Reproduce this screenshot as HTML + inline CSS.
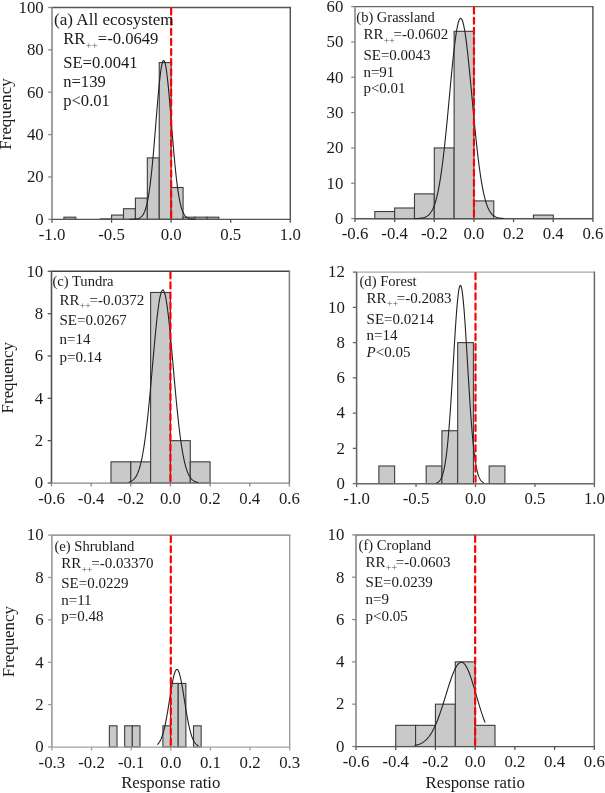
<!DOCTYPE html>
<html><head><meta charset="utf-8"><style>
html,body{margin:0;padding:0;background:#fff;width:605px;height:793px;overflow:hidden}
svg{display:block;will-change:transform}
text{font-family:"Liberation Serif",serif;fill:#1a1a1a}
</style></head><body>
<svg width="605" height="793" viewBox="0 0 605 793">
<rect width="605" height="793" fill="#fff"/>
<rect x="63.91" y="217.18" width="11.91" height="2.12" fill="#c9c9c9" stroke="#3c3c3c" stroke-width="1.1"/>
<line x1="99.66" y1="218.8" x2="111.58" y2="218.8" stroke="#444" stroke-width="1"/>
<rect x="111.58" y="215.06" width="11.91" height="4.24" fill="#c9c9c9" stroke="#3c3c3c" stroke-width="1.1"/>
<rect x="123.49" y="208.71" width="11.92" height="10.59" fill="#c9c9c9" stroke="#3c3c3c" stroke-width="1.1"/>
<rect x="135.41" y="198.12" width="11.91" height="21.18" fill="#c9c9c9" stroke="#3c3c3c" stroke-width="1.1"/>
<rect x="147.32" y="157.88" width="11.92" height="61.42" fill="#c9c9c9" stroke="#3c3c3c" stroke-width="1.1"/>
<rect x="159.24" y="62.57" width="11.91" height="156.73" fill="#c9c9c9" stroke="#3c3c3c" stroke-width="1.1"/>
<rect x="171.15" y="187.53" width="11.92" height="31.77" fill="#c9c9c9" stroke="#3c3c3c" stroke-width="1.1"/>
<rect x="183.07" y="217.18" width="11.91" height="2.12" fill="#c9c9c9" stroke="#3c3c3c" stroke-width="1.1"/>
<rect x="194.98" y="217.18" width="11.92" height="2.12" fill="#c9c9c9" stroke="#3c3c3c" stroke-width="1.1"/>
<rect x="206.9" y="217.18" width="11.91" height="2.12" fill="#c9c9c9" stroke="#3c3c3c" stroke-width="1.1"/>
<line x1="52" y1="7.5" x2="290.3" y2="7.5" stroke="#555" stroke-width="1.45" stroke-linecap="round"/>
<line x1="290.3" y1="7.5" x2="290.3" y2="219.3" stroke="#555" stroke-width="1.45" stroke-linecap="round"/>
<line x1="52" y1="7.5" x2="52" y2="219.3" stroke="#8a8a8a" stroke-width="1.6"/>
<line x1="52" y1="219.45" x2="290.3" y2="219.45" stroke="#555" stroke-width="1.3"/>
<line x1="48.2" y1="219.3" x2="52" y2="219.3" stroke="#8a8a8a" stroke-width="1.3"/>
<text x="43.7" y="224.6" text-anchor="end" font-size="16.8">0</text>
<line x1="48.2" y1="176.94" x2="52" y2="176.94" stroke="#8a8a8a" stroke-width="1.3"/>
<text x="43.7" y="182.24" text-anchor="end" font-size="16.8">20</text>
<line x1="48.2" y1="134.58" x2="52" y2="134.58" stroke="#8a8a8a" stroke-width="1.3"/>
<text x="43.7" y="139.88" text-anchor="end" font-size="16.8">40</text>
<line x1="48.2" y1="92.22" x2="52" y2="92.22" stroke="#8a8a8a" stroke-width="1.3"/>
<text x="43.7" y="97.52" text-anchor="end" font-size="16.8">60</text>
<line x1="48.2" y1="49.86" x2="52" y2="49.86" stroke="#8a8a8a" stroke-width="1.3"/>
<text x="43.7" y="55.16" text-anchor="end" font-size="16.8">80</text>
<line x1="48.2" y1="7.5" x2="52" y2="7.5" stroke="#8a8a8a" stroke-width="1.3"/>
<text x="43.7" y="12.8" text-anchor="end" font-size="16.8">100</text>
<line x1="52" y1="219.3" x2="52" y2="222.8" stroke="#555" stroke-width="1.3"/>
<text x="52" y="239.8" text-anchor="middle" font-size="16.8">-1.0</text>
<line x1="111.58" y1="219.3" x2="111.58" y2="222.8" stroke="#555" stroke-width="1.3"/>
<text x="111.58" y="239.8" text-anchor="middle" font-size="16.8">-0.5</text>
<line x1="171.15" y1="219.3" x2="171.15" y2="222.8" stroke="#555" stroke-width="1.3"/>
<text x="171.15" y="239.8" text-anchor="middle" font-size="16.8">0.0</text>
<line x1="230.73" y1="219.3" x2="230.73" y2="222.8" stroke="#555" stroke-width="1.3"/>
<text x="230.73" y="239.8" text-anchor="middle" font-size="16.8">0.5</text>
<line x1="290.3" y1="219.3" x2="290.3" y2="222.8" stroke="#555" stroke-width="1.3"/>
<text x="290.3" y="239.8" text-anchor="middle" font-size="16.8">1.0</text>
<polyline points="129.45,219.29 129.99,219.29 130.54,219.28 131.09,219.28 131.63,219.27 132.18,219.26 132.72,219.25 133.27,219.23 133.82,219.2 134.36,219.17 134.91,219.14 135.45,219.09 136,219.03 136.55,218.95 137.09,218.85 137.64,218.73 138.19,218.58 138.73,218.4 139.28,218.17 139.82,217.9 140.37,217.56 140.92,217.16 141.46,216.67 142.01,216.09 142.55,215.4 143.1,214.59 143.65,213.63 144.19,212.52 144.74,211.23 145.28,209.73 145.83,208.02 146.38,206.07 146.92,203.85 147.47,201.36 148.02,198.56 148.56,195.45 149.11,192.01 149.65,188.23 150.2,184.09 150.75,179.61 151.29,174.77 151.84,169.59 152.38,164.09 152.93,158.28 153.48,152.2 154.02,145.87 154.57,139.35 155.11,132.68 155.66,125.92 156.21,119.13 156.75,112.37 157.3,105.73 157.84,99.28 158.39,93.09 158.94,87.23 159.48,81.79 160.03,76.84 160.58,72.44 161.12,68.65 161.67,65.54 162.21,63.13 162.76,61.48 163.31,60.6 163.85,60.51 164.4,61.2 164.94,62.67 165.49,64.9 166.04,67.85 166.58,71.49 167.13,75.75 167.67,80.57 168.22,85.91 168.77,91.67 169.31,97.79 169.86,104.19 170.41,110.79 170.95,117.52 171.5,124.31 172.04,131.09 172.59,137.78 173.14,144.35 173.68,150.72 174.23,156.87 174.77,162.74 175.32,168.32 175.87,173.58 176.41,178.49 176.96,183.06 177.5,187.28 178.05,191.15 178.6,194.67 179.14,197.86 179.69,200.73 180.24,203.29 180.78,205.57 181.33,207.58 181.87,209.35 182.42,210.89 182.97,212.23 183.51,213.39 184.06,214.38 184.6,215.22 185.15,215.94 185.7,216.54 186.24,217.05 186.79,217.47 187.33,217.82 187.88,218.11 188.43,218.35 188.97,218.54 189.52,218.7 190.07,218.83 190.61,218.93 191.16,219.01 191.7,219.08 192.25,219.13 192.8,219.17 193.34,219.2 193.89,219.22 194.43,219.24 194.98,219.26" fill="none" stroke="#222" stroke-width="1.1"/>
<line x1="171.15" y1="7.5" x2="171.15" y2="219.3" stroke="#ff0000" stroke-width="2.2" stroke-linecap="round" stroke-dasharray="6 4.13" stroke-dashoffset="-1.035"/>
<text x="54" y="25.4" font-size="17.1">(a) All ecosystem</text>
<text x="63.2" y="44.1" font-size="16.6">RR<tspan font-size="10.79" dx="0.3" dy="4.98" fill="#555">++</tspan><tspan dx="0" dy="-4.98">=-0.0649</tspan></text>
<text x="63.2" y="68.2" font-size="16.6">SE=0.0041</text>
<text x="63.2" y="87.3" font-size="16.6">n=139</text>
<text x="63.2" y="105.8" font-size="16.6">p&lt;0.01</text>
<text transform="translate(11.3,114) rotate(-90)" text-anchor="middle" font-size="16.9">Frequency</text>
<rect x="374.82" y="211.53" width="19.82" height="7.07" fill="#c9c9c9" stroke="#3c3c3c" stroke-width="1.1"/>
<rect x="394.65" y="208" width="19.83" height="10.6" fill="#c9c9c9" stroke="#3c3c3c" stroke-width="1.1"/>
<rect x="414.48" y="193.87" width="19.82" height="24.73" fill="#c9c9c9" stroke="#3c3c3c" stroke-width="1.1"/>
<rect x="434.3" y="147.93" width="19.83" height="70.67" fill="#c9c9c9" stroke="#3c3c3c" stroke-width="1.1"/>
<rect x="454.12" y="31.33" width="19.82" height="187.27" fill="#c9c9c9" stroke="#3c3c3c" stroke-width="1.1"/>
<rect x="473.95" y="200.93" width="19.82" height="17.67" fill="#c9c9c9" stroke="#3c3c3c" stroke-width="1.1"/>
<rect x="533.42" y="215.07" width="19.83" height="3.53" fill="#c9c9c9" stroke="#3c3c3c" stroke-width="1.1"/>
<line x1="355" y1="6.6" x2="592.9" y2="6.6" stroke="#666" stroke-width="1.45" stroke-linecap="round"/>
<line x1="592.9" y1="6.6" x2="592.9" y2="218.6" stroke="#555" stroke-width="1.45" stroke-linecap="round"/>
<line x1="355" y1="6.6" x2="355" y2="218.6" stroke="#888" stroke-width="1.6"/>
<line x1="355" y1="218.75" x2="592.9" y2="218.75" stroke="#555" stroke-width="1.3"/>
<line x1="351.2" y1="218.6" x2="355" y2="218.6" stroke="#888" stroke-width="1.3"/>
<text x="343.3" y="223.9" text-anchor="end" font-size="16.8">0</text>
<line x1="351.2" y1="183.27" x2="355" y2="183.27" stroke="#888" stroke-width="1.3"/>
<text x="343.3" y="188.57" text-anchor="end" font-size="16.8">10</text>
<line x1="351.2" y1="147.93" x2="355" y2="147.93" stroke="#888" stroke-width="1.3"/>
<text x="343.3" y="153.23" text-anchor="end" font-size="16.8">20</text>
<line x1="351.2" y1="112.6" x2="355" y2="112.6" stroke="#888" stroke-width="1.3"/>
<text x="343.3" y="117.9" text-anchor="end" font-size="16.8">30</text>
<line x1="351.2" y1="77.27" x2="355" y2="77.27" stroke="#888" stroke-width="1.3"/>
<text x="343.3" y="82.57" text-anchor="end" font-size="16.8">40</text>
<line x1="351.2" y1="41.93" x2="355" y2="41.93" stroke="#888" stroke-width="1.3"/>
<text x="343.3" y="47.23" text-anchor="end" font-size="16.8">50</text>
<line x1="351.2" y1="6.6" x2="355" y2="6.6" stroke="#888" stroke-width="1.3"/>
<text x="343.3" y="11.9" text-anchor="end" font-size="16.8">60</text>
<line x1="355" y1="218.6" x2="355" y2="222.1" stroke="#555" stroke-width="1.3"/>
<text x="355" y="239.1" text-anchor="middle" font-size="16.8">-0.6</text>
<line x1="394.65" y1="218.6" x2="394.65" y2="222.1" stroke="#555" stroke-width="1.3"/>
<text x="394.65" y="239.1" text-anchor="middle" font-size="16.8">-0.4</text>
<line x1="434.3" y1="218.6" x2="434.3" y2="222.1" stroke="#555" stroke-width="1.3"/>
<text x="434.3" y="239.1" text-anchor="middle" font-size="16.8">-0.2</text>
<line x1="473.95" y1="218.6" x2="473.95" y2="222.1" stroke="#555" stroke-width="1.3"/>
<text x="473.95" y="239.1" text-anchor="middle" font-size="16.8">0.0</text>
<line x1="513.6" y1="218.6" x2="513.6" y2="222.1" stroke="#555" stroke-width="1.3"/>
<text x="513.6" y="239.1" text-anchor="middle" font-size="16.8">0.2</text>
<line x1="553.25" y1="218.6" x2="553.25" y2="222.1" stroke="#555" stroke-width="1.3"/>
<text x="553.25" y="239.1" text-anchor="middle" font-size="16.8">0.4</text>
<line x1="592.9" y1="218.6" x2="592.9" y2="222.1" stroke="#555" stroke-width="1.3"/>
<text x="592.9" y="239.1" text-anchor="middle" font-size="16.8">0.6</text>
<polyline points="414.48,218.55 415.22,218.54 415.96,218.52 416.71,218.5 417.45,218.47 418.19,218.43 418.94,218.38 419.68,218.32 420.42,218.25 421.17,218.15 421.91,218.04 422.65,217.9 423.4,217.73 424.14,217.52 424.88,217.27 425.63,216.96 426.37,216.6 427.11,216.16 427.86,215.64 428.6,215.03 429.34,214.3 430.09,213.45 430.83,212.46 431.57,211.31 432.32,209.99 433.06,208.47 433.8,206.72 434.55,204.74 435.29,202.5 436.03,199.98 436.78,197.16 437.52,194.01 438.26,190.52 439.01,186.68 439.75,182.47 440.5,177.88 441.24,172.9 441.98,167.54 442.73,161.8 443.47,155.68 444.21,149.2 444.96,142.39 445.7,135.27 446.44,127.88 447.19,120.26 447.93,112.46 448.67,104.54 449.42,96.55 450.16,88.57 450.9,80.67 451.65,72.92 452.39,65.4 453.13,58.18 453.88,51.35 454.62,44.98 455.36,39.15 456.11,33.92 456.85,29.37 457.59,25.53 458.34,22.47 459.08,20.22 459.82,18.82 460.57,18.27 461.31,18.59 462.05,19.77 462.8,21.79 463.54,24.64 464.29,28.27 465.03,32.64 465.77,37.69 466.52,43.37 467.26,49.6 468,56.32 468.75,63.44 469.49,70.89 470.23,78.59 470.98,86.46 471.72,94.42 472.46,102.41 473.21,110.36 473.95,118.2 474.69,125.87 475.44,133.33 476.18,140.52 476.92,147.42 477.67,153.99 478.41,160.2 479.15,166.05 479.9,171.51 480.64,176.59 481.38,181.28 482.13,185.59 482.87,189.53 483.61,193.11 484.36,196.35 485.1,199.26 485.84,201.86 486.59,204.17 487.33,206.22 488.08,208.02 488.82,209.6 489.56,210.98 490.31,212.17 491.05,213.2 491.79,214.09 492.54,214.84 493.28,215.49 494.02,216.03 494.77,216.49 495.51,216.87 496.25,217.19 497,217.46 497.74,217.68 498.48,217.86 499.23,218.01 499.97,218.13 500.71,218.22 501.46,218.3 502.2,218.37 502.94,218.42 503.69,218.46" fill="none" stroke="#222" stroke-width="1.1"/>
<line x1="473.95" y1="6.6" x2="473.95" y2="218.6" stroke="#ff0000" stroke-width="2.2" stroke-linecap="round" stroke-dasharray="6 4.13" stroke-dashoffset="-1.035"/>
<text x="356.3" y="21.8" font-size="14.5">(b) Grassland</text>
<text x="363.4" y="39.2" font-size="15.0">RR<tspan font-size="9.75" dx="0.3" dy="4.5" fill="#555">++</tspan><tspan dx="-1.2" dy="-4.5">=-0.0602</tspan></text>
<text x="363.4" y="59.6" font-size="15.0">SE=0.0043</text>
<text x="363.4" y="76.6" font-size="15.0">n=91</text>
<text x="363.4" y="93.1" font-size="15.0">p&lt;0.01</text>
<rect x="110.97" y="461.83" width="19.82" height="21.17" fill="#c9c9c9" stroke="#3c3c3c" stroke-width="1.1"/>
<rect x="130.8" y="461.83" width="19.83" height="21.17" fill="#c9c9c9" stroke="#3c3c3c" stroke-width="1.1"/>
<rect x="150.62" y="292.47" width="19.82" height="190.53" fill="#c9c9c9" stroke="#3c3c3c" stroke-width="1.1"/>
<rect x="170.45" y="440.66" width="19.83" height="42.34" fill="#c9c9c9" stroke="#3c3c3c" stroke-width="1.1"/>
<rect x="190.28" y="461.83" width="19.82" height="21.17" fill="#c9c9c9" stroke="#3c3c3c" stroke-width="1.1"/>
<line x1="51.5" y1="271.3" x2="289.4" y2="271.3" stroke="#444" stroke-width="1.45" stroke-linecap="round"/>
<line x1="289.4" y1="271.3" x2="289.4" y2="483" stroke="#777" stroke-width="1.45" stroke-linecap="round"/>
<line x1="51.5" y1="271.3" x2="51.5" y2="483" stroke="#555" stroke-width="1.6"/>
<line x1="51.5" y1="483.15" x2="289.4" y2="483.15" stroke="#888" stroke-width="1.3"/>
<line x1="47.7" y1="483" x2="51.5" y2="483" stroke="#555" stroke-width="1.3"/>
<text x="43.2" y="488.3" text-anchor="end" font-size="16.8">0</text>
<line x1="47.7" y1="440.66" x2="51.5" y2="440.66" stroke="#555" stroke-width="1.3"/>
<text x="43.2" y="445.96" text-anchor="end" font-size="16.8">2</text>
<line x1="47.7" y1="398.32" x2="51.5" y2="398.32" stroke="#555" stroke-width="1.3"/>
<text x="43.2" y="403.62" text-anchor="end" font-size="16.8">4</text>
<line x1="47.7" y1="355.98" x2="51.5" y2="355.98" stroke="#555" stroke-width="1.3"/>
<text x="43.2" y="361.28" text-anchor="end" font-size="16.8">6</text>
<line x1="47.7" y1="313.64" x2="51.5" y2="313.64" stroke="#555" stroke-width="1.3"/>
<text x="43.2" y="318.94" text-anchor="end" font-size="16.8">8</text>
<line x1="47.7" y1="271.3" x2="51.5" y2="271.3" stroke="#555" stroke-width="1.3"/>
<text x="43.2" y="276.6" text-anchor="end" font-size="16.8">10</text>
<line x1="51.5" y1="483" x2="51.5" y2="486.5" stroke="#888" stroke-width="1.3"/>
<text x="51.5" y="503.5" text-anchor="middle" font-size="16.8">-0.6</text>
<line x1="91.15" y1="483" x2="91.15" y2="486.5" stroke="#888" stroke-width="1.3"/>
<text x="91.15" y="503.5" text-anchor="middle" font-size="16.8">-0.4</text>
<line x1="130.8" y1="483" x2="130.8" y2="486.5" stroke="#888" stroke-width="1.3"/>
<text x="130.8" y="503.5" text-anchor="middle" font-size="16.8">-0.2</text>
<line x1="170.45" y1="483" x2="170.45" y2="486.5" stroke="#888" stroke-width="1.3"/>
<text x="170.45" y="503.5" text-anchor="middle" font-size="16.8">0.0</text>
<line x1="210.1" y1="483" x2="210.1" y2="486.5" stroke="#888" stroke-width="1.3"/>
<text x="210.1" y="503.5" text-anchor="middle" font-size="16.8">0.2</text>
<line x1="249.75" y1="483" x2="249.75" y2="486.5" stroke="#888" stroke-width="1.3"/>
<text x="249.75" y="503.5" text-anchor="middle" font-size="16.8">0.4</text>
<line x1="289.4" y1="483" x2="289.4" y2="486.5" stroke="#888" stroke-width="1.3"/>
<text x="289.4" y="503.5" text-anchor="middle" font-size="16.8">0.6</text>
<polyline points="128.82,482.16 129.4,481.99 129.97,481.79 130.55,481.56 131.13,481.29 131.71,480.97 132.29,480.59 132.87,480.16 133.44,479.67 134.02,479.1 134.6,478.44 135.18,477.69 135.76,476.84 136.33,475.88 136.91,474.79 137.49,473.56 138.07,472.18 138.65,470.64 139.23,468.92 139.8,467.02 140.38,464.92 140.96,462.6 141.54,460.06 142.12,457.29 142.69,454.27 143.27,450.99 143.85,447.46 144.43,443.66 145.01,439.58 145.59,435.24 146.16,430.63 146.74,425.75 147.32,420.62 147.9,415.24 148.48,409.63 149.06,403.8 149.63,397.77 150.21,391.58 150.79,385.24 151.37,378.79 151.95,372.27 152.52,365.71 153.1,359.15 153.68,352.63 154.26,346.2 154.84,339.91 155.42,333.79 155.99,327.91 156.57,322.29 157.15,317 157.73,312.07 158.31,307.55 158.89,303.47 159.46,299.88 160.04,296.8 160.62,294.27 161.2,292.3 161.78,290.91 162.35,290.12 162.93,289.94 163.51,290.37 164.09,291.39 164.67,293.01 165.25,295.21 165.82,297.97 166.4,301.26 166.98,305.05 167.56,309.31 168.14,314 168.72,319.08 169.29,324.5 169.87,330.23 170.45,336.21 171.03,342.41 171.61,348.76 172.18,355.23 172.76,361.77 173.34,368.34 173.92,374.89 174.5,381.38 175.08,387.79 175.65,394.07 176.23,400.2 176.81,406.15 177.39,411.9 177.97,417.42 178.55,422.7 179.12,427.74 179.7,432.51 180.28,437.01 180.86,441.25 181.44,445.21 182.01,448.9 182.59,452.33 183.17,455.5 183.75,458.43 184.33,461.11 184.91,463.55 185.48,465.78 186.06,467.8 186.64,469.63 187.22,471.27 187.8,472.75 188.38,474.07 188.95,475.24 189.53,476.28 190.11,477.2 190.69,478 191.27,478.71 191.84,479.33 192.42,479.87 193,480.34 193.58,480.75 194.16,481.1 194.74,481.4 195.31,481.66 195.89,481.88 196.47,482.06 197.05,482.22 197.63,482.35 198.2,482.47" fill="none" stroke="#222" stroke-width="1.1"/>
<line x1="170.45" y1="271.3" x2="170.45" y2="483" stroke="#ff0000" stroke-width="2.2" stroke-linecap="round" stroke-dasharray="6 4.13" stroke-dashoffset="-1.035"/>
<text x="52.4" y="285.5" font-size="14.6">(c) Tundra</text>
<text x="59.5" y="304.5" font-size="15.0">RR<tspan font-size="9.75" dx="0.3" dy="4.5" fill="#555">++</tspan><tspan dx="-1.2" dy="-4.5">=-0.0372</tspan></text>
<text x="59.5" y="324.5" font-size="15.0">SE=0.0267</text>
<text x="59.5" y="343.6" font-size="15.0">n=14</text>
<text x="59.5" y="361.5" font-size="15.0">p=0.14</text>
<text transform="translate(12.5,377.75) rotate(-90)" text-anchor="middle" font-size="16.9">Frequency</text>
<rect x="378.89" y="465.98" width="15.75" height="17.62" fill="#c9c9c9" stroke="#3c3c3c" stroke-width="1.1"/>
<rect x="426.16" y="465.98" width="15.75" height="17.62" fill="#c9c9c9" stroke="#3c3c3c" stroke-width="1.1"/>
<rect x="441.91" y="430.73" width="15.75" height="52.88" fill="#c9c9c9" stroke="#3c3c3c" stroke-width="1.1"/>
<rect x="457.67" y="342.6" width="15.75" height="141" fill="#c9c9c9" stroke="#3c3c3c" stroke-width="1.1"/>
<rect x="489.17" y="465.98" width="15.75" height="17.62" fill="#c9c9c9" stroke="#3c3c3c" stroke-width="1.1"/>
<line x1="356.6" y1="272.1" x2="594.4" y2="272.1" stroke="#aaa" stroke-width="1.45" stroke-linecap="round"/>
<line x1="594.4" y1="272.1" x2="594.4" y2="483.6" stroke="#666" stroke-width="1.45" stroke-linecap="round"/>
<line x1="356.6" y1="272.1" x2="356.6" y2="483.6" stroke="#666" stroke-width="1.6"/>
<line x1="356.6" y1="483.75" x2="594.4" y2="483.75" stroke="#666" stroke-width="1.3"/>
<line x1="352.8" y1="483.6" x2="356.6" y2="483.6" stroke="#666" stroke-width="1.3"/>
<text x="344.9" y="488.9" text-anchor="end" font-size="16.8">0</text>
<line x1="352.8" y1="448.35" x2="356.6" y2="448.35" stroke="#666" stroke-width="1.3"/>
<text x="344.9" y="453.65" text-anchor="end" font-size="16.8">2</text>
<line x1="352.8" y1="413.1" x2="356.6" y2="413.1" stroke="#666" stroke-width="1.3"/>
<text x="344.9" y="418.4" text-anchor="end" font-size="16.8">4</text>
<line x1="352.8" y1="377.85" x2="356.6" y2="377.85" stroke="#666" stroke-width="1.3"/>
<text x="344.9" y="383.15" text-anchor="end" font-size="16.8">6</text>
<line x1="352.8" y1="342.6" x2="356.6" y2="342.6" stroke="#666" stroke-width="1.3"/>
<text x="344.9" y="347.9" text-anchor="end" font-size="16.8">8</text>
<line x1="352.8" y1="307.35" x2="356.6" y2="307.35" stroke="#666" stroke-width="1.3"/>
<text x="344.9" y="312.65" text-anchor="end" font-size="16.8">10</text>
<line x1="352.8" y1="272.1" x2="356.6" y2="272.1" stroke="#666" stroke-width="1.3"/>
<text x="344.9" y="277.4" text-anchor="end" font-size="16.8">12</text>
<line x1="356.6" y1="483.6" x2="356.6" y2="487.1" stroke="#666" stroke-width="1.3"/>
<text x="356.6" y="504.1" text-anchor="middle" font-size="16.8">-1.0</text>
<line x1="416.05" y1="483.6" x2="416.05" y2="487.1" stroke="#666" stroke-width="1.3"/>
<text x="416.05" y="504.1" text-anchor="middle" font-size="16.8">-0.5</text>
<line x1="475.5" y1="483.6" x2="475.5" y2="487.1" stroke="#666" stroke-width="1.3"/>
<text x="475.5" y="504.1" text-anchor="middle" font-size="16.8">0.0</text>
<line x1="534.95" y1="483.6" x2="534.95" y2="487.1" stroke="#666" stroke-width="1.3"/>
<text x="534.95" y="504.1" text-anchor="middle" font-size="16.8">0.5</text>
<line x1="594.4" y1="483.6" x2="594.4" y2="487.1" stroke="#666" stroke-width="1.3"/>
<text x="594.4" y="504.1" text-anchor="middle" font-size="16.8">1.0</text>
<polyline points="436.26,482.95 436.66,482.82 437.06,482.66 437.45,482.48 437.85,482.26 438.24,482 438.64,481.71 439.04,481.36 439.43,480.96 439.83,480.5 440.23,479.96 440.62,479.35 441.02,478.65 441.42,477.85 441.81,476.95 442.21,475.92 442.6,474.77 443,473.47 443.4,472.02 443.79,470.4 444.19,468.6 444.59,466.61 444.98,464.41 445.38,461.99 445.77,459.35 446.17,456.47 446.57,453.33 446.96,449.94 447.36,446.29 447.76,442.36 448.15,438.17 448.55,433.7 448.95,428.96 449.34,423.95 449.74,418.69 450.13,413.18 450.53,407.44 450.93,401.48 451.32,395.33 451.72,389.01 452.12,382.55 452.51,375.99 452.91,369.34 453.31,362.67 453.7,356 454.1,349.37 454.49,342.84 454.89,336.44 455.29,330.23 455.68,324.24 456.08,318.54 456.48,313.15 456.87,308.13 457.27,303.52 457.67,299.36 458.06,295.69 458.46,292.53 458.85,289.92 459.25,287.88 459.65,286.42 460.04,285.57 460.44,285.32 460.84,285.69 461.23,286.66 461.63,288.24 462.02,290.4 462.42,293.12 462.82,296.38 463.21,300.16 463.61,304.41 464.01,309.11 464.4,314.2 464.8,319.65 465.2,325.42 465.59,331.45 465.99,337.71 466.38,344.13 466.78,350.69 467.18,357.33 467.57,364 467.97,370.68 468.37,377.31 468.76,383.85 469.16,390.29 469.56,396.57 469.95,402.69 470.35,408.6 470.74,414.3 471.14,419.76 471.54,424.98 471.93,429.93 472.33,434.61 472.73,439.03 473.12,443.17 473.52,447.04 473.91,450.64 474.31,453.98 474.71,457.06 475.1,459.9 475.5,462.49 475.9,464.86 476.29,467.02 476.69,468.97 477.09,470.74 477.48,472.32 477.88,473.74 478.27,475.01 478.67,476.14 479.07,477.14 479.46,478.02 479.86,478.8 480.26,479.48 480.65,480.07 481.05,480.59 481.44,481.04 481.84,481.43 482.24,481.77 482.63,482.06 483.03,482.31 483.43,482.52 483.82,482.7" fill="none" stroke="#222" stroke-width="1.1"/>
<line x1="475.5" y1="272.1" x2="475.5" y2="483.6" stroke="#ff0000" stroke-width="2.2" stroke-linecap="round" stroke-dasharray="6 4.13" stroke-dashoffset="-1.035"/>
<text x="359.5" y="285.5" font-size="14.6">(d) Forest</text>
<text x="366.6" y="302.7" font-size="15.0">RR<tspan font-size="9.75" dx="0.3" dy="4.5" fill="#555">++</tspan><tspan dx="-1.2" dy="-4.5">=-0.2083</tspan></text>
<text x="366.6" y="323.5" font-size="15.0">SE=0.0214</text>
<text x="366.6" y="340" font-size="15.0">n=14</text>
<text x="366.6" y="357.1" font-size="15.0"><tspan font-style="italic">P</tspan>&lt;0.05</text>
<rect x="109.37" y="725.81" width="7.65" height="21.19" fill="#c9c9c9" stroke="#3c3c3c" stroke-width="1.1"/>
<rect x="124.67" y="725.81" width="7.65" height="21.19" fill="#c9c9c9" stroke="#3c3c3c" stroke-width="1.1"/>
<rect x="132.32" y="725.81" width="7.65" height="21.19" fill="#c9c9c9" stroke="#3c3c3c" stroke-width="1.1"/>
<rect x="162.91" y="725.81" width="7.65" height="21.19" fill="#c9c9c9" stroke="#3c3c3c" stroke-width="1.1"/>
<rect x="170.56" y="683.43" width="7.65" height="63.57" fill="#c9c9c9" stroke="#3c3c3c" stroke-width="1.1"/>
<rect x="178.21" y="683.43" width="7.65" height="63.57" fill="#c9c9c9" stroke="#3c3c3c" stroke-width="1.1"/>
<rect x="193.51" y="725.81" width="7.65" height="21.19" fill="#c9c9c9" stroke="#3c3c3c" stroke-width="1.1"/>
<line x1="51.9" y1="535.1" x2="289.7" y2="535.1" stroke="#7a7a7a" stroke-width="1.45" stroke-linecap="round"/>
<line x1="289.7" y1="535.1" x2="289.7" y2="747" stroke="#a0a0a0" stroke-width="1.45" stroke-linecap="round"/>
<line x1="51.9" y1="535.1" x2="51.9" y2="747" stroke="#999" stroke-width="1.6"/>
<line x1="51.9" y1="747.15" x2="289.7" y2="747.15" stroke="#a0a0a0" stroke-width="1.3"/>
<line x1="48.1" y1="747" x2="51.9" y2="747" stroke="#999" stroke-width="1.3"/>
<text x="43.6" y="752.3" text-anchor="end" font-size="16.8">0</text>
<line x1="48.1" y1="704.62" x2="51.9" y2="704.62" stroke="#999" stroke-width="1.3"/>
<text x="43.6" y="709.92" text-anchor="end" font-size="16.8">2</text>
<line x1="48.1" y1="662.24" x2="51.9" y2="662.24" stroke="#999" stroke-width="1.3"/>
<text x="43.6" y="667.54" text-anchor="end" font-size="16.8">4</text>
<line x1="48.1" y1="619.86" x2="51.9" y2="619.86" stroke="#999" stroke-width="1.3"/>
<text x="43.6" y="625.16" text-anchor="end" font-size="16.8">6</text>
<line x1="48.1" y1="577.48" x2="51.9" y2="577.48" stroke="#999" stroke-width="1.3"/>
<text x="43.6" y="582.78" text-anchor="end" font-size="16.8">8</text>
<line x1="48.1" y1="535.1" x2="51.9" y2="535.1" stroke="#999" stroke-width="1.3"/>
<text x="43.6" y="540.4" text-anchor="end" font-size="16.8">10</text>
<line x1="51.9" y1="747" x2="51.9" y2="750.5" stroke="#a0a0a0" stroke-width="1.3"/>
<text x="51.9" y="767.5" text-anchor="middle" font-size="16.8">-0.3</text>
<line x1="91.53" y1="747" x2="91.53" y2="750.5" stroke="#a0a0a0" stroke-width="1.3"/>
<text x="91.53" y="767.5" text-anchor="middle" font-size="16.8">-0.2</text>
<line x1="131.17" y1="747" x2="131.17" y2="750.5" stroke="#a0a0a0" stroke-width="1.3"/>
<text x="131.17" y="767.5" text-anchor="middle" font-size="16.8">-0.1</text>
<line x1="170.8" y1="747" x2="170.8" y2="750.5" stroke="#a0a0a0" stroke-width="1.3"/>
<text x="170.8" y="767.5" text-anchor="middle" font-size="16.8">0.0</text>
<line x1="210.43" y1="747" x2="210.43" y2="750.5" stroke="#a0a0a0" stroke-width="1.3"/>
<text x="210.43" y="767.5" text-anchor="middle" font-size="16.8">0.1</text>
<line x1="250.07" y1="747" x2="250.07" y2="750.5" stroke="#a0a0a0" stroke-width="1.3"/>
<text x="250.07" y="767.5" text-anchor="middle" font-size="16.8">0.2</text>
<line x1="289.7" y1="747" x2="289.7" y2="750.5" stroke="#a0a0a0" stroke-width="1.3"/>
<text x="289.7" y="767.5" text-anchor="middle" font-size="16.8">0.3</text>
<polyline points="157.32,744.58 157.67,744.27 158.01,743.93 158.36,743.55 158.7,743.13 159.04,742.67 159.39,742.17 159.73,741.62 160.07,741.02 160.42,740.37 160.76,739.67 161.1,738.9 161.45,738.08 161.79,737.19 162.13,736.24 162.48,735.22 162.82,734.13 163.16,732.97 163.51,731.74 163.85,730.43 164.19,729.06 164.54,727.6 164.88,726.08 165.22,724.48 165.57,722.81 165.91,721.08 166.26,719.28 166.6,717.41 166.94,715.49 167.29,713.52 167.63,711.49 167.97,709.43 168.32,707.32 168.66,705.19 169,703.04 169.35,700.88 169.69,698.71 170.03,696.55 170.38,694.4 170.72,692.28 171.06,690.19 171.41,688.15 171.75,686.16 172.09,684.24 172.44,682.4 172.78,680.64 173.13,678.99 173.47,677.43 173.81,676 174.16,674.69 174.5,673.51 174.84,672.47 175.19,671.57 175.53,670.83 175.87,670.24 176.22,669.81 176.56,669.55 176.9,669.45 177.25,669.51 177.59,669.74 177.93,670.13 178.28,670.68 178.62,671.39 178.96,672.25 179.31,673.25 179.65,674.4 179.99,675.68 180.34,677.09 180.68,678.62 181.03,680.25 181.37,681.99 181.71,683.81 182.06,685.71 182.4,687.68 182.74,689.71 183.09,691.79 183.43,693.91 183.77,696.05 184.12,698.21 184.46,700.38 184.8,702.54 185.15,704.7 185.49,706.83 185.83,708.94 186.18,711.02 186.52,713.05 186.86,715.04 187.21,716.98 187.55,718.85 187.9,720.67 188.24,722.42 188.58,724.1 188.93,725.72 189.27,727.26 189.61,728.73 189.96,730.12 190.3,731.45 190.64,732.69 190.99,733.87 191.33,734.98 191.67,736.01 192.02,736.98 192.36,737.88 192.7,738.72 193.05,739.5 193.39,740.22 193.73,740.88 194.08,741.49 194.42,742.05 194.76,742.56 195.11,743.03 195.45,743.45 195.8,743.84 196.14,744.19 196.48,744.51 196.83,744.8 197.17,745.05 197.51,745.28 197.86,745.49 198.2,745.67 198.54,745.84" fill="none" stroke="#222" stroke-width="1.1"/>
<line x1="170.8" y1="535.1" x2="170.8" y2="747" stroke="#ff0000" stroke-width="2.2" stroke-linecap="round" stroke-dasharray="6 4.13" stroke-dashoffset="-1.035"/>
<text x="54.5" y="551.1" font-size="14.6">(e) Shrubland</text>
<text x="61.2" y="568.1" font-size="15.0">RR<tspan font-size="9.75" dx="0.3" dy="4.5" fill="#555">++</tspan><tspan dx="-1.2" dy="-4.5">=-0.03370</tspan></text>
<text x="61.2" y="588" font-size="15.0">SE=0.0229</text>
<text x="61.2" y="604.8" font-size="15.0">n=11</text>
<text x="61.2" y="621.1" font-size="15.0">p=0.48</text>
<text transform="translate(14.0,641.65) rotate(-90)" text-anchor="middle" font-size="16.9">Frequency</text>
<text x="170.8" y="788" text-anchor="middle" font-size="16.8">Response ratio</text>
<rect x="395.72" y="725.34" width="19.86" height="21.16" fill="#c9c9c9" stroke="#3c3c3c" stroke-width="1.1"/>
<rect x="415.57" y="725.34" width="19.86" height="21.16" fill="#c9c9c9" stroke="#3c3c3c" stroke-width="1.1"/>
<rect x="435.43" y="704.18" width="19.86" height="42.32" fill="#c9c9c9" stroke="#3c3c3c" stroke-width="1.1"/>
<rect x="455.29" y="661.86" width="19.86" height="84.64" fill="#c9c9c9" stroke="#3c3c3c" stroke-width="1.1"/>
<rect x="475.15" y="725.34" width="19.86" height="21.16" fill="#c9c9c9" stroke="#3c3c3c" stroke-width="1.1"/>
<line x1="356" y1="534.9" x2="594.3" y2="534.9" stroke="#777" stroke-width="1.45" stroke-linecap="round"/>
<line x1="594.3" y1="534.9" x2="594.3" y2="746.5" stroke="#777" stroke-width="1.45" stroke-linecap="round"/>
<line x1="356" y1="534.9" x2="356" y2="746.5" stroke="#888" stroke-width="1.6"/>
<line x1="356" y1="746.65" x2="594.3" y2="746.65" stroke="#555" stroke-width="1.3"/>
<line x1="352.2" y1="746.5" x2="356" y2="746.5" stroke="#888" stroke-width="1.3"/>
<text x="344.3" y="751.8" text-anchor="end" font-size="16.8">0</text>
<line x1="352.2" y1="704.18" x2="356" y2="704.18" stroke="#888" stroke-width="1.3"/>
<text x="344.3" y="709.48" text-anchor="end" font-size="16.8">2</text>
<line x1="352.2" y1="661.86" x2="356" y2="661.86" stroke="#888" stroke-width="1.3"/>
<text x="344.3" y="667.16" text-anchor="end" font-size="16.8">4</text>
<line x1="352.2" y1="619.54" x2="356" y2="619.54" stroke="#888" stroke-width="1.3"/>
<text x="344.3" y="624.84" text-anchor="end" font-size="16.8">6</text>
<line x1="352.2" y1="577.22" x2="356" y2="577.22" stroke="#888" stroke-width="1.3"/>
<text x="344.3" y="582.52" text-anchor="end" font-size="16.8">8</text>
<line x1="352.2" y1="534.9" x2="356" y2="534.9" stroke="#888" stroke-width="1.3"/>
<text x="344.3" y="540.2" text-anchor="end" font-size="16.8">10</text>
<line x1="356" y1="746.5" x2="356" y2="750" stroke="#555" stroke-width="1.3"/>
<text x="356" y="767" text-anchor="middle" font-size="16.8">-0.6</text>
<line x1="395.72" y1="746.5" x2="395.72" y2="750" stroke="#555" stroke-width="1.3"/>
<text x="395.72" y="767" text-anchor="middle" font-size="16.8">-0.4</text>
<line x1="435.43" y1="746.5" x2="435.43" y2="750" stroke="#555" stroke-width="1.3"/>
<text x="435.43" y="767" text-anchor="middle" font-size="16.8">-0.2</text>
<line x1="475.15" y1="746.5" x2="475.15" y2="750" stroke="#555" stroke-width="1.3"/>
<text x="475.15" y="767" text-anchor="middle" font-size="16.8">0.0</text>
<line x1="514.87" y1="746.5" x2="514.87" y2="750" stroke="#555" stroke-width="1.3"/>
<text x="514.87" y="767" text-anchor="middle" font-size="16.8">0.2</text>
<line x1="554.58" y1="746.5" x2="554.58" y2="750" stroke="#555" stroke-width="1.3"/>
<text x="554.58" y="767" text-anchor="middle" font-size="16.8">0.4</text>
<line x1="594.3" y1="746.5" x2="594.3" y2="750" stroke="#555" stroke-width="1.3"/>
<text x="594.3" y="767" text-anchor="middle" font-size="16.8">0.6</text>
<polyline points="414.58,745.53 415.17,745.41 415.76,745.29 416.34,745.15 416.93,745 417.52,744.83 418.11,744.65 418.69,744.45 419.28,744.23 419.87,743.99 420.46,743.73 421.04,743.44 421.63,743.14 422.22,742.8 422.81,742.44 423.39,742.06 423.98,741.64 424.57,741.19 425.16,740.7 425.74,740.18 426.33,739.62 426.92,739.03 427.51,738.39 428.09,737.71 428.68,736.99 429.27,736.22 429.86,735.41 430.44,734.55 431.03,733.64 431.62,732.68 432.21,731.68 432.79,730.61 433.38,729.5 433.97,728.34 434.56,727.12 435.14,725.85 435.73,724.53 436.32,723.15 436.91,721.73 437.49,720.25 438.08,718.72 438.67,717.15 439.26,715.53 439.84,713.87 440.43,712.17 441.02,710.43 441.61,708.65 442.19,706.84 442.78,705.01 443.37,703.15 443.96,701.27 444.54,699.37 445.13,697.47 445.72,695.55 446.31,693.64 446.89,691.74 447.48,689.84 448.07,687.96 448.66,686.1 449.24,684.27 449.83,682.48 450.42,680.72 451.01,679.02 451.59,677.36 452.18,675.77 452.77,674.23 453.36,672.77 453.94,671.39 454.53,670.08 455.12,668.87 455.71,667.74 456.29,666.71 456.88,665.78 457.47,664.95 458.06,664.23 458.64,663.62 459.23,663.12 459.82,662.74 460.41,662.47 460.99,662.32 461.58,662.29 462.17,662.38 462.76,662.61 463.34,662.96 463.93,663.44 464.52,664.05 465.1,664.78 465.69,665.63 466.28,666.6 466.87,667.68 467.45,668.86 468.04,670.15 468.63,671.53 469.22,673 469.8,674.55 470.39,676.18 470.98,677.88 471.57,679.64 472.15,681.46 472.74,683.33 473.33,685.24 473.92,687.18 474.5,689.15 475.09,691.15 475.68,693.15 476.27,695.16 476.85,697.18 477.44,699.19 478.03,701.18 478.62,703.17 479.2,705.12 479.79,707.06 480.38,708.96 480.97,710.82 481.55,712.64 482.14,714.42 482.73,716.16 483.32,717.84 483.9,719.48 484.49,721.06 485.08,722.58" fill="none" stroke="#222" stroke-width="1.1"/>
<line x1="475.15" y1="534.9" x2="475.15" y2="746.5" stroke="#ff0000" stroke-width="2.2" stroke-linecap="round" stroke-dasharray="6 4.13" stroke-dashoffset="-1.035"/>
<text x="358.6" y="550.2" font-size="14.6">(f) Cropland</text>
<text x="365.6" y="566.7" font-size="15.0">RR<tspan font-size="9.75" dx="0.3" dy="4.5" fill="#555">++</tspan><tspan dx="-1.2" dy="-4.5">=-0.0603</tspan></text>
<text x="365.6" y="586.5" font-size="15.0">SE=0.0239</text>
<text x="365.6" y="603.7" font-size="15.0">n=9</text>
<text x="365.6" y="621.3" font-size="15.0">p&lt;0.05</text>
<text x="475.15" y="788" text-anchor="middle" font-size="16.8">Response ratio</text>
</svg></body></html>
